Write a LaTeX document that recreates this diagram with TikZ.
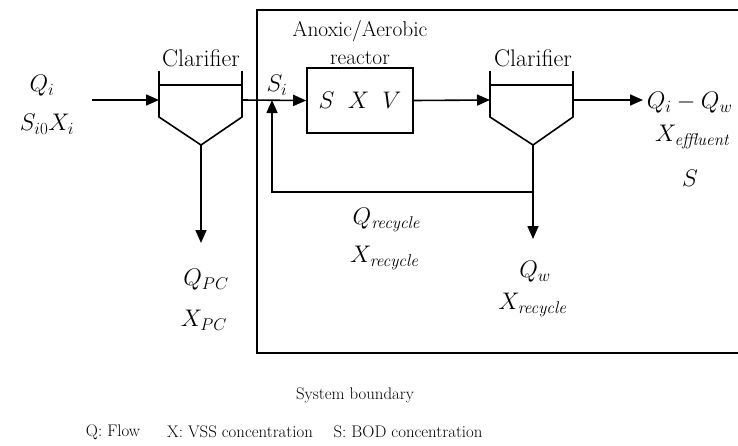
\documentclass[tikz,border=0pt]{standalone}
\usepackage{fix-cm}
\DeclareMathSizes{24}{24}{17}{13}
\usetikzlibrary{arrows.meta}
\begin{document}
\begin{tikzpicture}[x=1pt,y=-1pt,line width=1.6pt,
  flow/.style={-{Triangle[length=13pt,width=11pt]}},
  lbl/.style={font=\fontsize{24}{26}\selectfont,inner sep=0pt},
  rlbl/.style={font=\fontsize{21.4}{26}\selectfont,inner sep=0pt},
  mlbl/.style={font=\fontsize{24}{26}\selectfont,inner sep=0pt},
  leg/.style={font=\fontsize{16.8}{19}\selectfont,inner sep=0pt}]
\useasboundingbox (0,0) rectangle (738,445);
\clip (0,0) rectangle (738,445);
% system boundary
\draw (738,10) -- (257,10) -- (257,353) -- (738,353);
% clarifier 1
\draw (159,71) -- (159,117) -- (201,145) -- (242,117) -- (242,71);
\draw (159,85) -- (242,85);
\coordinate (c1in) at (159,100);
\coordinate (c1out) at (242,100);
\coordinate (c1bot) at (201,145);
\node[lbl] (cl1) at (201,58) {Clarifier};
% clarifier 2
\draw (490,71) -- (490,117) -- (533,145) -- (573,117) -- (573,71);
\draw (490,85) -- (573,85);
\coordinate (c2in) at (490,100);
\coordinate (c2out) at (573,100);
\coordinate (c2bot) at (533,145);
\node[lbl] (cl2) at (533,58) {Clarifier};
% reactor
\node[draw,minimum width=106pt,minimum height=65pt,inner sep=0pt,mlbl] (r) at (360,100.5) {$S\;\;X\;\;V$};
\node[rlbl,align=center] (rt) at (360,43) {Anoxic/Aerobic\\[2pt]reactor};
% inlet
\coordinate (in) at (92,100);
\draw[flow] (in) -- (c1in);
\node[mlbl] (qi) at (42,86) {$Q_i$};
\node[mlbl] (si) at (47,124) {$S_{i0}X_i$};
% clarifier1 -> reactor
\draw[flow] (c1out) -- (r.west);
\node[mlbl] (sil) at (277,85) {$S_i$};
% recycle
\coordinate (rj) at (272,100);
\coordinate (rc) at (272,192);
\coordinate (rr) at (533,192);
\draw[flow] (rr) -- (rc) -- (rj);
\node[mlbl] (qr) at (387,220) {$Q_{\mathit{recycle}}$};
\node[mlbl] (xr) at (385,258) {$X_{\mathit{recycle}}$};
% reactor -> clarifier 2
\draw[flow] (r.east) -- (c2in);
% effluent
\coordinate (eff) at (643,100);
\draw[flow] (c2out) -- (eff);
\node[mlbl,anchor=west] (qe) at (646,103) {$Q_i-Q_w$};
\node[mlbl] (xe) at (693,137) {$X_{\mathit{effluent}}$};
\node[mlbl] (se) at (690,178) {$S$};
% wastage
\coordinate (w) at (533,239);
\draw[flow] (c2bot) -- (w);
\node[mlbl] (qw) at (535,272) {$Q_w$};
\node[mlbl] (xw) at (533,305) {$X_{\mathit{recycle}}$};
% primary sludge
\coordinate (pc) at (201,243);
\draw[flow] (c1bot) -- (pc);
\node[mlbl] (qpc) at (206,280) {$Q_{PC}$};
\node[mlbl] (xpc) at (204,320) {$X_{PC}$};
% text
\node[leg] (sb) at (355,395) {System boundary};
\node[leg] (l1) at (113,432) {Q: Flow};
\node[leg] (l2) at (240,432) {X: VSS concentration};
\node[leg] (l3) at (408,432) {S: BOD concentration};
\end{tikzpicture}
\end{document}
